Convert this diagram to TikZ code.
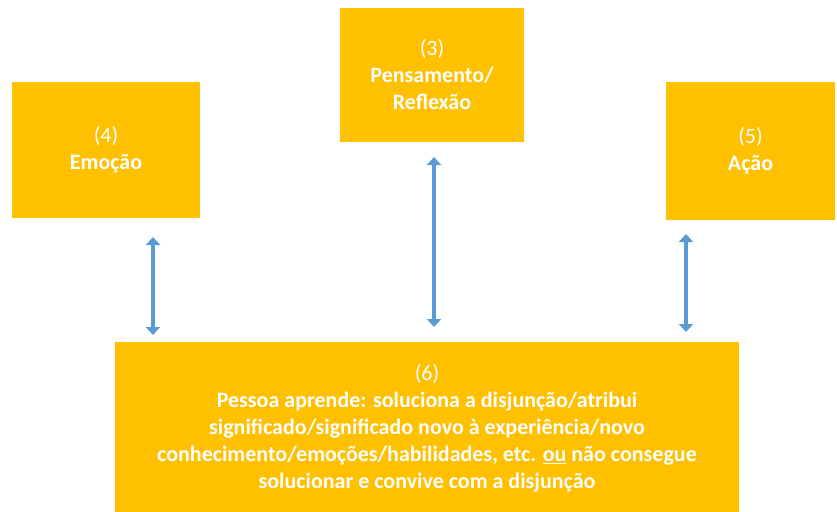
\documentclass[tikz,border=0pt]{standalone}
\usepackage{fontspec}
\setmainfont{Carlito}
\usetikzlibrary{arrows.meta}
\definecolor{boxy}{HTML}{FFC000}
\definecolor{arr}{HTML}{5B9BD5}
\begin{document}
\begin{tikzpicture}[x=1pt,y=-1pt,
  box/.style={fill=boxy, draw=none, text=white, align=center, inner sep=0pt,
    font=\fontsize{22}{27}\selectfont\bfseries},
  dbl/.style={draw=arr, line width=4.5pt,
    {Triangle[width=14pt,length=8pt]}-{Triangle[width=14pt,length=8pt]}}]
\fill[white] (0,0) rectangle (837,511);
\useasboundingbox (0,0) rectangle (837,511);
\node[box, minimum width=184pt, minimum height=134pt] (b3) at (432,75)
  {{\mdseries(3)}\\Pensamento/\\Reflexão};
\node[box, minimum width=188pt, minimum height=136pt] (b4) at (106,150)
  {{\mdseries(4)}\\Emoção};
\node[box, minimum width=169pt, minimum height=138pt] (b5) at (750.5,151)
  {{\mdseries(5)}\\Ação};
\node[box, minimum width=624pt, minimum height=172pt] (b6) at (427,428)
  {{\mdseries(6)}\\Pessoa aprende: soluciona a disjunção/atribui\\significado/significado novo à experiência/novo\\conhecimento/emoções/habilidades, etc. \underline{ou} não consegue\\solucionar e convive com a disjunção};
\coordinate (a1t) at (153,237);
\coordinate (a1b) at (153,335);
\coordinate (a2t) at (434,157);
\coordinate (a2b) at (434,327);
\coordinate (a3t) at (686,234);
\coordinate (a3b) at (686,332);
\draw[dbl] (a1t) -- (a1b);
\draw[dbl] (a2t) -- (a2b);
\draw[dbl] (a3t) -- (a3b);
\end{tikzpicture}
\end{document}
